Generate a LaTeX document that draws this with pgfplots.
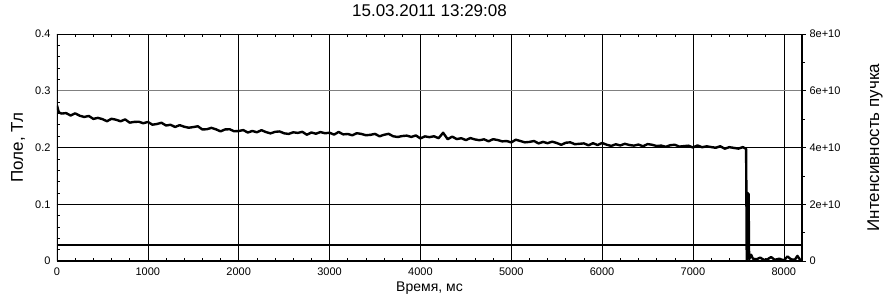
\documentclass[border=0pt]{standalone}
\usepackage{pgfplots}
\pgfplotsset{compat=1.18}
\usepackage{fontspec}
\setmainfont{Liberation Sans}

\pgfplotstableread{
x y
0 0.274
20 0.262
50 0.2598
100 0.2606
150 0.2564
200 0.2602
250 0.2560
300 0.2538
350 0.2556
400 0.2504
450 0.2522
500 0.2500
550 0.2463
600 0.2506
650 0.2489
700 0.2462
750 0.2495
800 0.2438
850 0.2451
900 0.2454
950 0.2427
1000 0.2450
1050 0.2402
1100 0.2414
1150 0.2436
1200 0.2388
1250 0.2400
1300 0.2362
1350 0.2394
1400 0.2366
1450 0.2348
1500 0.2360
1550 0.2374
1600 0.2318
1650 0.2322
1700 0.2346
1750 0.2320
1800 0.2284
1850 0.2318
1900 0.2322
1950 0.2286
2000 0.2290
2050 0.2307
2100 0.2264
2150 0.2291
2200 0.2268
2250 0.2305
2300 0.2272
2350 0.2249
2400 0.2276
2450 0.2283
2500 0.2250
2550 0.2239
2600 0.2268
2650 0.2257
2700 0.2276
2750 0.2225
2800 0.2264
2850 0.2243
2900 0.2272
2950 0.2251
3000 0.2260
3050 0.2227
3100 0.2274
3150 0.2231
3200 0.2238
3250 0.2215
3300 0.2252
3350 0.2239
3400 0.2216
3450 0.2223
3500 0.2240
3550 0.2197
3600 0.2224
3650 0.2241
3700 0.2198
3750 0.2185
3800 0.2202
3850 0.2209
3900 0.2186
3950 0.2213
4000 0.2160
4050 0.2196
4100 0.2182
4150 0.2198
4200 0.2164
4250 0.2260
4300 0.2146
4350 0.2192
4400 0.2148
4450 0.2164
4500 0.2130
4550 0.2166
4600 0.2142
4650 0.2128
4700 0.2144
4750 0.2110
4800 0.2146
4850 0.2132
4900 0.2108
4950 0.2114
5000 0.2090
5050 0.2137
5100 0.2114
5150 0.2091
5200 0.2098
5250 0.2115
5300 0.2072
5350 0.2099
5400 0.2076
5450 0.2103
5500 0.2080
5550 0.2047
5600 0.2084
5650 0.2091
5700 0.2058
5750 0.2065
5800 0.2072
5850 0.2039
5900 0.2076
5950 0.2043
6000 0.2080
6050 0.2049
6100 0.2028
6150 0.2057
6200 0.2036
6250 0.2065
6300 0.2044
6350 0.2033
6400 0.2052
6450 0.2021
6500 0.2060
6550 0.2048
6600 0.2026
6650 0.2034
6700 0.2012
6750 0.2040
6800 0.2048
6850 0.2016
6900 0.2024
6950 0.2032
7000 0.2000
7050 0.2037
7100 0.2004
7150 0.2021
7200 0.2008
7250 0.1995
7300 0.2022
7350 0.1979
7400 0.2006
7450 0.1993
7500 0.1980
7550 0.2007
7585 0.1975
7592 0.0020
7598 0.1200
7612 0.1180
7618 0.0030
7640 0.0110
7660 0.0040
7700 0.0030
7740 0.0060
7780 0.0020
7820 0.0030
7860 0.0070
7900 0.0020
7950 0.0040
8000 0.0010
8040 0.0080
8080 0.0030
8120 0.0020
8150 0.0090
8180 0.0020
8200 0.0010
}\fielddata

\begin{document}
\begin{tikzpicture}
\useasboundingbox (-57pt,-35pt) rectangle (830pt,261pt);
\begin{axis}[
  at={(0,0)}, anchor=south west,
  scale only axis, width=745pt, height=227pt,
  xmin=0, xmax=8200, ymin=0, ymax=0.4,
  xtick={0,1000,...,8000},
  xticklabels={0,1000,2000,3000,4000,5000,6000,7000,8000},
  ytick={0,0.1,0.2,0.3,0.4},
  yticklabels={0,0.1,0.2,0.3,0.4},
  minor x tick num=4, minor y tick num=4,
  ytick pos=left,
  tick align=inside,
  major tick length=4pt, minor tick length=3pt,
  tick style={black, line width=0.6pt},
  axis line style={black, line width=0.6pt},
  grid=major,
  major grid style={black, line width=0.6pt},
  xticklabel style={font=\fontsize{11}{12}\selectfont, yshift=-3pt},
  yticklabel style={font=\fontsize{11}{12}\selectfont, xshift=-3pt},
  title={15.03.2011 13:29:08},
  title style={at={(0.5,1)}, anchor=south, yshift=8pt, font=\fontsize{17}{18}\selectfont},
  xlabel={Время, мс},
  every axis x label/.style={at={(axis description cs:0.5,0)}, anchor=center, yshift=-27pt, font=\fontsize{14}{15}\selectfont},
  ylabel={Поле, Тл},
  every axis y label/.style={at={(axis description cs:-0.0523,0.5)}, rotate=90, anchor=center, font=\fontsize{17}{18}\selectfont},
]
\addplot[gray, line width=0.8pt] coordinates {(0,0.3) (8200,0.3)};
\addplot[black, line width=1.3pt] coordinates {(2000,0) (2000,0.4)};
\addplot[black, line width=1.4pt] coordinates {(0,0.028) (8200,0.028)};
\addplot[black, line width=2.4pt, line join=round] table[x=x, y=y] {\fielddata};
\draw[black, line width=1.6pt] (rel axis cs:0,1) -- (rel axis cs:0,0) -- (rel axis cs:1,0) -- (rel axis cs:1,1);
\end{axis}
\begin{axis}[
  at={(0,0)}, anchor=south west,
  scale only axis, width=745pt, height=227pt,
  xmin=0, xmax=8200, ymin=0, ymax=8e10,
  scaled y ticks=false,
  axis x line=none,
  axis y line*=right,
  axis line style={-, black, line width=2pt},
  ytick={0,2e10,4e10,6e10,8e10},
  yticklabels={0,2e+10,4e+10,6e+10,8e+10},
  minor y tick num=1,
  tick align=outside,
  major tick length=4pt, minor tick length=3pt,
  tick style={black, line width=0.6pt},
  yticklabel style={font=\fontsize{11}{12}\selectfont},
  ylabel={Интенсивность пучка},
  every axis y label/.style={at={(axis description cs:1.098,0.5)}, rotate=90, anchor=center, font=\fontsize{17}{18}\selectfont},
]
\addplot[draw=none] coordinates {(0,0) (8200,0)};
\end{axis}
\end{tikzpicture}
\end{document}
